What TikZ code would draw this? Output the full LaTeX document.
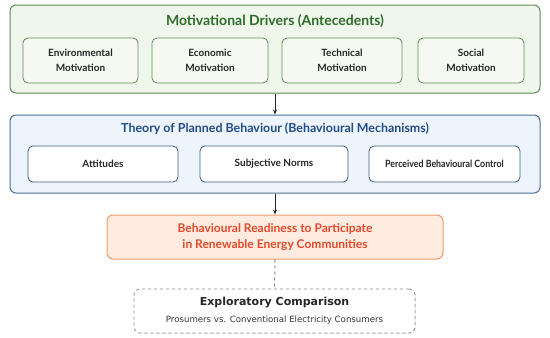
\documentclass[tikz,border=0pt]{standalone}
\usepackage{fontspec}
\setmainfont{Lato}
\newfontfamily\djv{DejaVu Sans}
\usetikzlibrary{arrows.meta,shadows}
\definecolor{gtitle}{HTML}{2F6B2A}
\definecolor{gborder}{HTML}{5E8C55}
\definecolor{gfill}{HTML}{EFF6EB}
\definecolor{gin}{HTML}{F5F9F2}
\definecolor{btitle}{HTML}{1F4C8A}
\definecolor{bborder}{HTML}{4A6F9C}
\definecolor{bfill}{HTML}{EEF4FB}
\definecolor{binb}{HTML}{3E5C80}
\definecolor{otext}{HTML}{E5482B}
\definecolor{oborder}{HTML}{EE9A6A}
\definecolor{ofill}{HTML}{FDECDF}
\definecolor{gray1}{HTML}{8A8A8A}
\tikzset{
  outerg/.style={draw=gborder, fill=gfill, line width=1pt, rounded corners=6pt},
  innerg/.style={draw=gborder, fill=gin, line width=0.8pt, rounded corners=5pt, align=center, font=\bfseries\fontsize{10}{14.5}\selectfont, text=black!85},
  outerb/.style={draw=bborder, fill=bfill, line width=1pt, rounded corners=6pt},
  innerb/.style={draw=binb, fill=white, line width=0.8pt, rounded corners=5pt, align=center, font=\bfseries\fontsize{10}{13}\selectfont, text=black!85},
  orbox/.style={draw=oborder, fill=ofill, line width=1pt, rounded corners=6pt, align=center, text=otext, font=\bfseries\fontsize{12}{16}\selectfont},
  grbox/.style={draw=gray1, dashed, fill=white, line width=0.8pt, rounded corners=6pt, drop shadow={opacity=0.15, shadow xshift=0.8pt, shadow yshift=-0.8pt}},
  arr/.style={-{Stealth[length=5pt,width=4pt]}, line width=0.8pt, black!85},
  dashline/.style={dashed, gray1, line width=1pt},
}
\begin{document}
\begin{tikzpicture}[x=1pt,y=-1pt]
\useasboundingbox (0,0) rectangle (550,338);
% green group
\node[outerg, minimum width=530, minimum height=88] (G) at (275,49) {};
\node[font=\bfseries\fontsize{14}{16}\selectfont, text=gtitle] (Gt) at (275,21) {Motivational Drivers (Antecedents)};
\node[innerg, minimum width=115, minimum height=45] (g1) at (80.5,60.5) {Environmental\\Motivation};
\node[innerg, minimum width=116, minimum height=45] (g2) at (210,60.5) {Economic\\Motivation};
\node[innerg, minimum width=120, minimum height=45] (g3) at (342,60.5) {Technical\\Motivation};
\node[innerg, minimum width=106, minimum height=45] (g4) at (471,60.5) {Social\\Motivation};
% blue group
\node[outerb, minimum width=530, minimum height=78] (B) at (275,154) {};
\node[font=\bfseries\fontsize{12.4}{14}\selectfont, text=btitle] (Bt) at (275,129) {Theory of Planned Behaviour (Behavioural Mechanisms)};
\node[innerb, minimum width=150, minimum height=36] (b1) at (103,164) {Attitudes};
\node[innerb, minimum width=148, minimum height=36] (b2) at (274,164) {Subjective Norms};
\node[innerb, minimum width=151, minimum height=36] (b3) at (444.5,164) {\scalebox{0.88}[1]{Perceived Behavioural Control}};
% orange
\node[orbox, minimum width=336, minimum height=44] (O) at (275,237) {Behavioural Readiness to Participate\\in Renewable Energy Communities};
% gray
\node[grbox, minimum width=281, minimum height=44] (E) at (274.5,311) {};
\node[font=\djv\bfseries\fontsize{11}{13}\selectfont, text=black!85] (Et) at (274.5,303) {Exploratory Comparison};
\node[font=\djv\fontsize{8.6}{10}\selectfont, text=black!80] (Es) at (274.5,320) {Prosumers vs. Conventional Electricity Consumers};
% connectors
\draw[arr] (G.south) -- (B.north);
\draw[arr] (B.south) -- (O.north);
\draw[dashline] (O.south) -- (E.north);
\end{tikzpicture}
\end{document}
